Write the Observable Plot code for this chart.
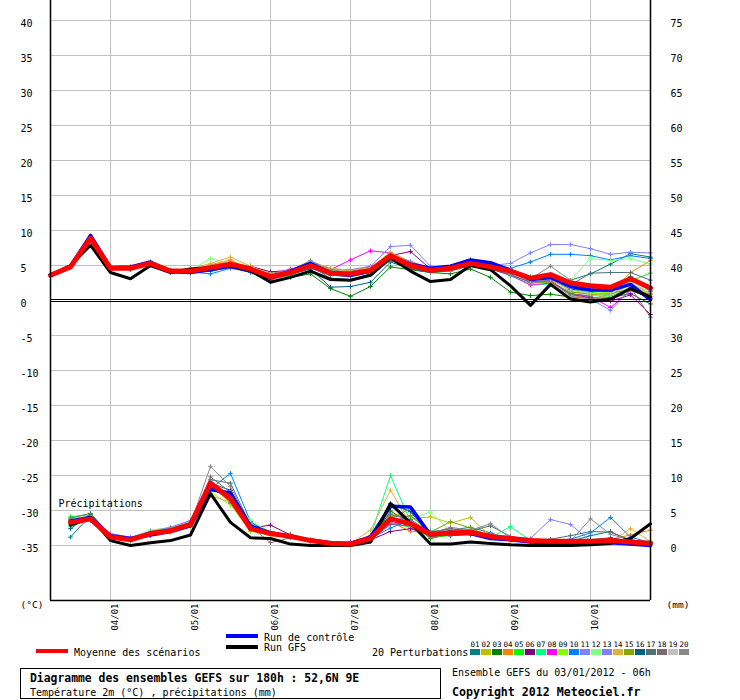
<!DOCTYPE html>
<html><head><meta charset="utf-8">
<script src="https://cdn.jsdelivr.net/npm/d3@7"></script>
<script src="https://cdn.jsdelivr.net/npm/@observablehq/plot@0.6"></script>
<style>body{margin:0;background:#fff} #chart{width:740px;height:700px}</style>
</head><body><div id="chart"></div>
<script>
// ---- data ----
const hours = [0,6,12,18,24,30,36,42,48,54,60,66,72,78,84,90,96,102,108,114,120,126,132,138,144,150,156,162,168,174,180];
const precipHours = [6,12,18,24,30,36,42,48,54,60,66,72,78,84,90,96,102,108,114,120,126,132,138,144,150,156,162,168,174,180];
const dayTicks = [18,42,66,90,114,138,162];
const dayLabels = ["04/01","05/01","06/01","07/01","08/01","09/01","10/01"];
const tempTicks = [40,35,30,25,20,15,10,5,0,-5,-10,-15,-20,-25,-30,-35];
const mmTicks = [75,70,65,60,55,50,45,40,35,30,25,20,15,10,5,0];
const mmOffset = 35; // right axis (mm) = left axis (°C) + 35

const meanTemp    = [3.6,4.8,8.9,4.6,4.6,5.3,4.2,4.2,4.7,5.2,4.5,3.4,4.0,5.0,3.9,3.8,4.3,6.4,5.0,4.3,4.6,5.3,4.8,4.2,3.2,3.7,2.5,2.1,1.9,3.1,1.8];
const controlTemp = [3.6,4.9,9.3,4.7,4.8,5.5,4.1,4.0,4.4,4.9,4.2,3.2,4.2,5.3,3.9,3.6,4.2,6.3,5.2,4.6,4.9,5.8,5.4,4.3,3.0,3.3,2.0,1.5,1.5,2.3,0.1];
const gfsTemp     = [3.6,5.0,7.9,4.0,3.1,5.0,4.0,4.5,4.7,5.0,4.3,2.6,3.3,4.2,3.0,2.9,3.6,6.1,4.2,2.7,3.0,5.0,4.4,2.1,-0.7,2.3,0.2,-0.2,0.2,1.7,0.5];

const meanPrecip    = [3.3,3.8,1.2,0.8,1.7,2.1,3.0,8.9,6.7,2.4,1.7,1.3,0.7,0.3,0.2,1.0,3.8,3.1,1.6,1.8,1.9,1.3,1.0,0.7,0.6,0.6,0.6,0.7,0.5,0.3];
const controlPrecip = [3.5,4.0,1.4,1.0,1.5,2.0,2.8,8.0,7.5,2.8,1.8,1.2,0.8,0.4,0.3,1.2,5.6,5.5,1.5,1.9,1.7,1.0,0.8,0.5,0.4,0.5,0.3,0.4,0.2,0.0];
const gfsPrecip     = [2.9,4.0,0.7,0.0,0.4,0.7,1.5,7.4,3.3,1.1,1.0,0.2,0.0,0.0,0.0,0.5,6.0,3.2,0.2,0.2,0.5,0.3,0.1,0.0,0.0,0.0,0.1,0.3,1.0,3.1];

const pertNames  = ["01","02","03","04","05","06","07","08","09","10","11","12","13","14","15","16","17","18","19","20"];
const pertColors = ["#008080","#c0c000","#008000","#ff8000","#00ff00","#800080","#00ff80","#ff00ff","#80ff00","#0080ff","#8080ff","#80ff80","#8080ff","#e0b040","#80a800","#006080","#507078","#806870","#c0c0c0","#888888"];

const pertTemp = [
[3.6,4.7,9.0,4.5,4.7,5.2,4.3,4.0,4.5,5.0,4.4,3.2,3.9,4.8,3.7,3.5,4.0,6.0,4.8,4.1,4.2,5.0,4.6,3.7,2.6,3.4,2.9,3.8,5.2,6.7,6.2],
[3.6,4.8,8.8,4.8,4.9,5.6,4.4,4.3,5.0,5.6,4.8,3.9,4.3,5.4,4.6,4.2,4.6,6.8,5.2,4.4,4.5,5.5,5.0,4.0,2.9,3.2,1.3,0.9,0.8,2.4,1.0],
[3.6,4.9,8.7,4.4,4.5,5.1,4.0,4.6,4.2,4.8,4.0,2.7,3.3,3.8,1.7,0.6,2.0,4.8,4.4,4.0,3.8,4.5,3.3,1.2,0.7,0.9,0.5,0.3,0.4,1.0,-0.5],
[3.6,4.8,8.9,4.7,4.7,5.4,4.3,4.2,5.1,5.8,4.3,3.6,4.1,5.3,4.4,4.0,4.5,6.9,5.5,4.7,4.8,5.6,4.9,4.0,2.8,3.0,0.8,0.2,0.9,4.0,5.7],
[3.6,4.9,9.1,4.5,4.6,5.6,4.1,3.9,4.5,5.3,4.7,3.1,3.5,4.9,3.8,3.5,4.2,5.9,4.6,4.0,4.2,5.2,4.9,3.9,3.4,3.6,1.5,1.2,0.7,2.8,3.9],
[3.6,4.8,8.8,4.6,4.4,5.3,4.4,4.4,4.8,5.2,4.9,4.1,4.3,5.2,4.0,4.2,4.8,6.4,7.0,4.5,4.6,5.8,5.1,4.4,3.0,2.8,0.9,0.4,-0.1,0.8,-2.0],
[3.6,4.8,9.0,4.6,4.6,5.0,4.3,4.2,4.6,5.1,5.0,3.5,4.2,5.4,3.9,3.9,4.3,6.2,5.0,4.3,4.7,5.2,4.7,3.5,2.4,2.2,0.9,0.7,0.6,1.9,0.2],
[3.6,4.7,8.9,4.4,4.8,5.2,4.2,4.1,4.6,5.1,4.6,3.7,4.5,5.1,4.4,5.8,7.1,6.8,4.9,4.4,4.5,5.1,4.5,3.6,2.2,2.5,1.0,0.6,-1.0,1.4,0.5],
[3.6,4.9,8.8,4.7,4.6,5.4,4.2,4.0,4.8,5.0,4.4,3.3,4.0,4.9,3.6,3.9,4.1,6.1,4.8,4.1,4.4,5.0,4.7,3.8,2.9,3.2,1.9,1.0,1.2,2.6,0.4],
[3.6,4.8,9.2,4.5,4.5,5.1,4.0,4.1,3.8,4.6,4.1,3.4,3.9,4.6,3.6,3.4,4.0,6.0,4.9,4.4,4.6,5.2,5.3,4.6,5.5,6.6,6.6,6.4,5.8,6.4,6.0],
[3.6,4.7,9.0,4.6,4.7,5.5,4.3,4.2,4.6,5.1,4.5,3.6,4.1,5.1,4.0,4.0,4.3,6.6,5.6,4.6,4.8,5.6,5.0,5.3,6.8,8.0,8.0,7.4,6.6,6.9,6.8],
[3.6,4.8,8.9,4.6,4.5,5.6,4.5,4.3,6.0,5.3,4.6,3.5,4.2,5.0,4.2,4.1,4.4,6.5,5.1,4.2,4.4,5.3,4.8,3.9,2.8,2.7,2.9,6.0,5.7,6.0,5.2],
[3.6,4.8,8.8,4.6,4.6,5.3,4.1,4.2,4.5,5.0,4.6,3.8,4.4,5.5,4.5,4.4,4.9,7.7,7.9,4.9,4.7,5.4,4.6,3.9,2.5,2.9,0.6,0.2,-1.4,1.5,0.3],
[3.6,4.8,9.0,4.7,4.7,5.5,4.3,4.5,5.3,6.2,4.9,3.7,4.2,5.6,4.6,4.3,4.7,6.9,5.3,4.6,4.8,5.4,4.8,3.9,2.6,2.6,0.4,0.1,0.8,2.2,0.8],
[3.6,4.8,8.9,4.5,4.6,5.2,4.2,4.3,4.7,5.3,4.5,3.5,4.0,5.1,4.3,4.0,4.4,6.4,4.9,4.2,4.5,5.2,4.6,3.8,2.7,2.6,1.2,0.9,1.0,1.6,0.9],
[3.6,4.8,8.9,4.6,4.7,5.2,4.1,4.0,4.4,4.8,4.3,3.2,3.7,4.5,1.9,2.0,2.6,5.5,4.5,4.0,4.3,5.0,4.5,3.7,2.7,3.0,1.6,1.4,1.3,3.4,1.3],
[3.6,4.8,8.9,4.6,4.5,5.3,4.3,4.2,4.7,5.2,4.5,3.3,4.0,4.9,3.2,3.0,3.8,5.7,4.7,4.1,4.3,5.2,4.6,3.9,3.0,3.4,2.2,3.9,4.0,4.0,2.9],
[3.6,4.8,8.9,4.6,4.6,5.1,4.1,4.2,4.5,4.8,4.3,2.9,3.7,5.0,3.7,3.7,4.1,6.2,4.8,4.1,4.3,5.1,4.6,3.7,2.6,2.7,1.0,0.5,0.1,1.9,-2.4],
[3.6,4.7,9.0,4.6,4.7,5.3,4.2,4.3,4.8,5.2,4.6,3.7,4.2,5.1,4.0,4.0,4.5,6.4,5.0,4.4,4.5,5.3,4.8,3.8,2.8,3.0,1.5,1.0,0.9,2.5,1.2],
[3.6,4.8,8.9,4.5,4.6,5.4,4.3,4.3,4.8,5.3,4.7,3.6,4.3,5.7,4.3,4.1,4.4,6.6,5.3,4.5,4.7,5.4,4.7,3.9,3.1,4.9,2.9,1.5,1.6,3.0,1.4]
];

const pertPrecip = [
[1.2,4.3,1.5,1.0,1.6,2.0,2.9,8.5,7.0,2.6,1.9,1.2,0.7,0.2,0.1,1.2,6.0,4.8,1.4,2.2,2.6,1.8,0.9,0.6,0.4,0.6,1.4,2.0,0.6,0.2],
[3.0,3.6,1.0,0.7,1.9,2.2,3.2,8.7,6.0,2.0,1.8,1.3,0.8,0.3,0.2,1.5,4.6,3.8,4.1,3.2,4.0,1.3,1.1,0.8,0.7,0.4,0.5,0.6,0.6,0.4],
[3.8,4.0,1.4,1.0,1.6,2.3,2.8,8.2,6.6,2.8,1.5,1.6,0.8,0.1,0.2,0.6,4.9,3.2,1.0,1.6,1.5,1.1,1.2,0.9,0.8,0.5,0.4,0.4,0.7,0.6],
[3.4,3.7,1.2,0.9,1.4,1.9,3.0,8.4,6.9,2.2,1.4,1.2,0.6,0.2,0.1,0.9,3.4,2.0,1.9,2.3,1.8,1.2,0.9,0.5,0.5,0.4,0.6,0.9,1.5,2.2],
[4.1,4.4,1.5,0.6,1.8,2.6,3.4,8.8,6.5,3.2,2.0,1.4,0.9,0.4,0.2,1.1,3.2,2.6,1.2,1.4,1.7,1.5,1.3,0.6,0.4,0.7,0.5,0.8,0.5,0.2],
[3.2,3.9,1.1,0.8,1.5,2.4,3.3,9.0,6.1,2.5,2.9,1.5,0.7,0.3,0.3,0.8,2.0,2.4,1.5,1.9,2.0,1.6,0.8,0.6,0.5,0.4,0.3,0.4,0.3,0.1],
[2.7,3.8,1.2,0.7,2.0,2.2,3.3,8.6,6.4,2.7,1.9,1.2,0.6,0.3,0.2,1.3,10.0,3.4,2.1,1.8,2.3,1.1,2.7,0.7,0.6,0.5,0.5,0.6,0.4,0.3],
[3.7,4.2,1.3,0.9,1.8,2.5,3.5,8.0,7.2,2.9,1.6,1.2,0.6,0.2,0.5,1.4,3.0,2.8,1.6,1.4,1.6,1.4,1.0,0.6,0.7,0.6,0.4,0.5,0.4,0.2],
[3.5,3.9,1.0,0.8,1.5,2.0,2.6,7.6,5.8,2.1,1.5,1.1,0.5,0.2,0.1,0.9,3.8,3.0,1.4,1.7,1.8,1.2,0.9,0.8,0.5,0.6,0.5,0.6,0.6,0.3],
[3.3,3.7,1.3,0.8,1.6,2.1,2.9,8.1,10.3,3.4,1.6,1.3,0.8,0.3,0.2,1.0,2.5,3.6,1.5,1.8,1.6,1.1,0.9,0.6,0.7,0.9,1.8,4.0,1.2,0.4],
[2.9,3.5,1.5,0.9,1.8,2.4,3.2,8.2,6.8,2.8,2.0,1.5,0.8,0.3,0.2,1.1,3.1,3.5,1.5,1.4,1.6,1.4,1.2,1.0,3.7,3.0,0.7,0.5,0.4,0.2],
[3.8,4.2,1.6,1.1,2.2,2.6,3.4,8.8,6.9,3.6,1.8,1.3,0.9,0.4,0.3,1.2,3.5,3.8,4.8,2.0,1.9,1.4,1.0,0.7,0.5,0.6,0.5,0.6,0.6,0.5],
[3.4,4.0,1.7,1.2,2.0,2.6,3.6,9.2,7.0,2.9,1.9,1.4,0.8,0.3,0.2,1.3,3.3,4.3,2.0,2.3,2.2,1.6,1.1,0.8,0.6,0.7,0.6,0.8,0.7,0.5],
[3.6,4.1,1.2,0.9,1.7,1.9,2.7,7.1,6.2,2.4,1.6,1.2,0.6,0.2,0.3,2.2,7.9,3.0,1.4,1.5,2.0,1.2,0.8,0.6,0.5,0.4,0.6,0.5,2.4,0.6],
[3.1,3.9,1.3,0.8,1.6,2.0,2.8,8.5,6.3,2.3,1.8,1.2,0.7,0.3,0.2,0.9,4.1,4.2,1.9,3.4,2.5,1.3,0.9,0.6,0.5,0.5,0.4,0.5,0.5,0.3],
[2.4,4.5,1.4,1.0,1.5,2.3,3.1,8.9,7.9,2.5,1.7,1.4,0.7,0.2,0.2,1.0,5.9,4.9,1.6,1.4,1.6,1.2,1.0,0.7,0.5,0.6,0.8,1.1,0.6,0.4],
[3.9,4.6,1.5,0.9,1.8,2.4,3.2,9.4,8.9,2.9,1.7,1.5,0.8,0.3,0.2,1.2,4.4,3.7,1.9,2.4,2.1,2.8,1.3,0.8,0.9,1.4,2.0,1.9,0.8,0.4],
[3.3,4.2,1.4,1.0,1.7,2.1,3.0,9.8,7.6,2.7,0.4,1.1,0.6,0.2,0.2,0.8,3.0,3.3,1.3,1.5,1.7,1.3,0.9,0.6,0.4,0.5,0.4,0.6,0.4,0.2],
[3.2,3.8,1.2,0.9,1.7,2.2,3.0,8.4,6.6,2.6,1.7,1.3,0.7,0.3,0.3,1.1,3.6,3.2,1.7,1.9,2.0,1.4,1.0,0.7,0.6,0.6,0.5,0.6,0.5,0.4],
[3.6,4.1,1.3,0.8,1.8,2.3,3.1,11.3,8.4,2.8,1.7,1.3,0.8,0.3,0.2,1.0,3.8,5.3,1.7,2.6,2.2,3.1,1.1,0.8,0.7,0.6,3.8,1.6,0.8,0.4]
];

// ---- tables ----
const pertTempRows = [], pertPrecipRows = [];
pertTemp.forEach((arr, i) => arr.forEach((v, j) => pertTempRows.push({s: pertNames[i], h: hours[j], y: v})));
pertPrecip.forEach((arr, i) => arr.forEach((v, j) => pertPrecipRows.push({s: pertNames[i], h: precipHours[j], y: v - mmOffset})));
const series = (hs, vals, off = 0) => vals.map((v, j) => ({h: hs[j], y: v - off}));

const mono = "DejaVu Sans Mono";
const yDom = [-42.86, 42.86];

const lineMain = (data, color, w) => Plot.line(data, {x: "h", y: "y", stroke: color, strokeWidth: w, strokeLinejoin: "round"});

const chart = Plot.plot({
  width: 740, height: 700,
  marginLeft: 50, marginRight: 90, marginTop: 0, marginBottom: 100,
  x: {domain: [0, 180], axis: null},
  y: {domain: yDom, axis: null},
  color: {domain: pertNames, range: pertColors},
  style: {fontFamily: mono, fontSize: "10px", background: "#fff", color: "#000"},
  marks: [
    Plot.ruleY(tempTicks.filter(d => d !== 0), {stroke: "#c0c0c0", strokeWidth: 1}),
    Plot.ruleX(dayTicks, {stroke: "#c0c0c0", strokeWidth: 1}),
    Plot.line(pertTempRows, {x: "h", y: "y", z: "s", stroke: "s", strokeWidth: 1}),
    Plot.line(pertPrecipRows, {x: "h", y: "y", z: "s", stroke: "s", strokeWidth: 1}),
    Plot.dot(pertTempRows, {x: "h", y: "y", stroke: "s", symbol: "plus", r: 1.6, strokeWidth: 1}),
    Plot.dot(pertPrecipRows, {x: "h", y: "y", stroke: "s", symbol: "plus", r: 1.6, strokeWidth: 1}),
    lineMain(series(hours, controlTemp), "#0000ff", 3.5),
    lineMain(series(precipHours, controlPrecip, mmOffset), "#0000ff", 3.5),
    lineMain(series(hours, gfsTemp), "#000", 3),
    lineMain(series(precipHours, gfsPrecip, mmOffset), "#000", 3),
    lineMain(series(hours, meanTemp), "#ff0000", 5),
    lineMain(series(precipHours, meanPrecip, mmOffset), "#ff0000", 5),
    // double zero line
    Plot.ruleY([0], {stroke: "#000", dy: -1}),
    Plot.ruleY([0], {stroke: "#000", dy: 1}),
    // frame
    Plot.ruleX([0, 180], {stroke: "#000", strokeWidth: 1.5}),
    Plot.ruleY([yDom[0]], {stroke: "#000", strokeWidth: 1.5}),
    // left axis labels
    Plot.text(tempTicks, {y: d => d, text: d => String(d), frameAnchor: "left", dx: -30, dy: 3, textAnchor: "start", fontSize: 10, fontFamily: mono}),
    // right axis labels
    Plot.text(mmTicks, {y: d => d - mmOffset, text: d => String(d), frameAnchor: "right", dx: 20, dy: 3, textAnchor: "start", fontSize: 10, fontFamily: mono}),
    // date labels
    Plot.text(dayTicks, {x: d => d, text: (d, i) => dayLabels[i], frameAnchor: "bottom", rotate: -90, textAnchor: "end", dx: 7, dy: 3, fontSize: 9, fontFamily: mono}),
    Plot.text(["(°C)"], {frameAnchor: "bottom-left", text: d => d, dx: -30, dy: 7, textAnchor: "start", fontSize: 9.5, fontFamily: mono}),
    Plot.text(["(mm)"], {frameAnchor: "bottom-right", text: d => d, dx: 16, dy: 7, textAnchor: "start", fontSize: 9.5, fontFamily: mono}),
    Plot.text(["Précipitations"], {frameAnchor: "left", y: -29, text: d => d, dx: 8, textAnchor: "start", fontSize: 10, fontFamily: mono})
  ]
});
document.getElementById("chart").appendChild(chart);

// ---- legend & captions (below the plot frame) ----
const svg = d3.select(chart);
const g = svg.append("g").attr("font-family", mono).attr("fill", "#000").attr("text-anchor", "start");
const legLine = (x1, x2, y, c) => g.append("line").attr("x1", x1).attr("x2", x2).attr("y1", y).attr("y2", y).attr("stroke", c).attr("stroke-width", 4);
const legText = (x, y, t, size, weight) => g.append("text").attr("x", x).attr("y", y).attr("dy", "0.35em").attr("text-anchor", "start").attr("font-size", size).attr("font-weight", weight || "normal").text(t);

legLine(36, 68, 651, "#ff0000");
legText(74, 652, "Moyenne des scénarios", 10);
legLine(226, 258, 636, "#0000ff");
legText(264, 637, "Run de contrôle", 10);
legLine(226, 258, 647, "#000000");
legText(264, 647, "Run GFS", 10);
legText(372, 652, "20 Perturbations", 10);
pertNames.forEach((n, i) => {
  const x = 470 + i * 11;
  g.append("rect").attr("x", x).attr("y", 649).attr("width", 10).attr("height", 6).attr("fill", pertColors[i]);
  g.append("text").attr("x", x + 5).attr("y", 644).attr("dy", "0.35em").attr("text-anchor", "middle").attr("font-size", 7.5).text(n);
});
g.append("rect").attr("x", 20.5).attr("y", 668.5).attr("width", 420).attr("height", 30).attr("fill", "none").attr("stroke", "#000");
legText(30, 678, "Diagramme des ensembles GEFS sur 180h : 52,6N 9E", 11.4, "bold");
legText(30, 692, "Température 2m (°C) , précipitations (mm)", 10);
legText(452, 672, "Ensemble GEFS du 03/01/2012 - 06h", 10);
legText(452, 692, "Copyright 2012 Meteociel.fr", 11.6, "bold");
</script>
</body></html>
